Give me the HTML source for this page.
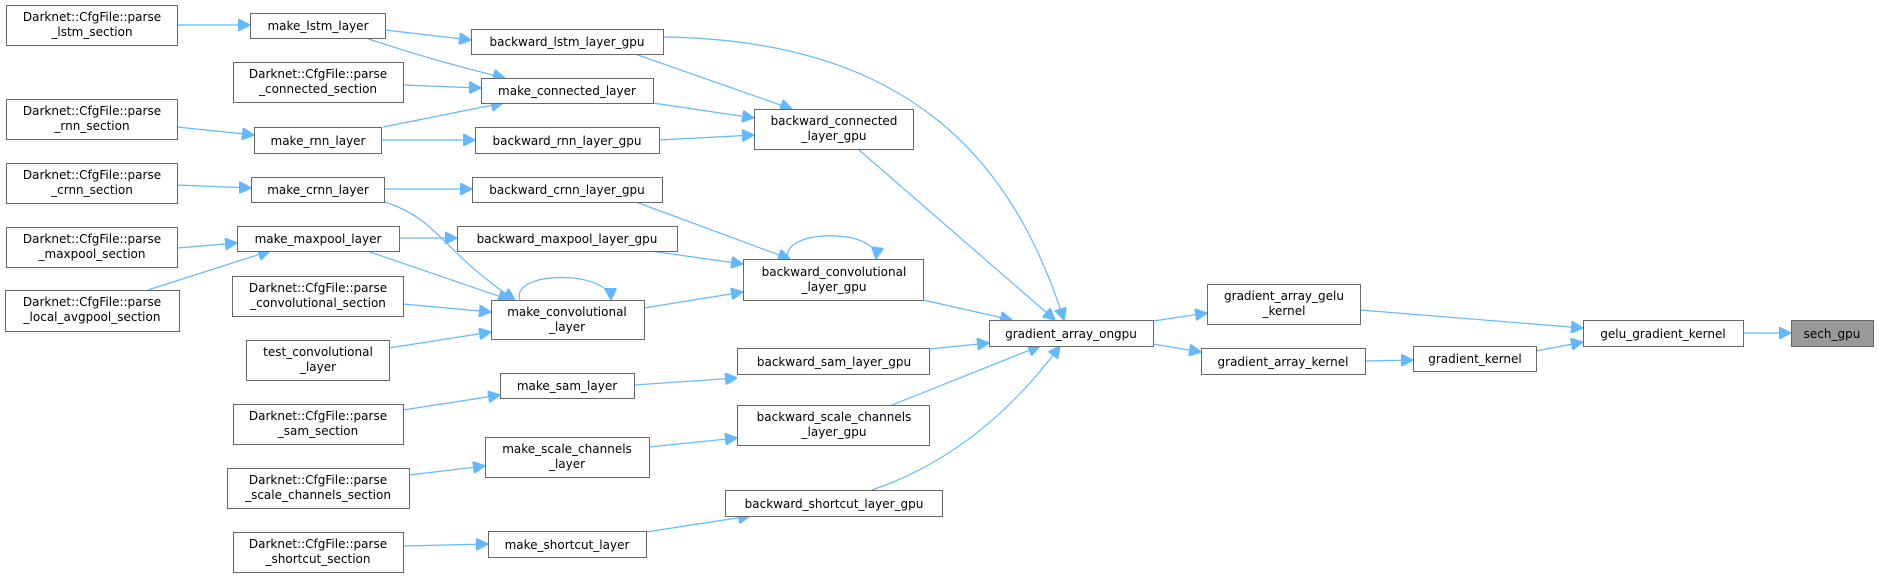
<!DOCTYPE html>
<html><head><meta charset="utf-8"><style>
html,body{margin:0;padding:0;background:#fff;}
svg{display:block;}
text{font-family:"DejaVu Sans","Liberation Sans",sans-serif;font-size:12px;fill:#000;text-anchor:middle;}
rect{fill:#fff;stroke:#666;stroke-width:1;}
path{fill:none;stroke:#63b8ff;stroke-width:1.2;}
</style></head><body>
<svg width="1879" height="577" viewBox="0 0 1879 577" xmlns="http://www.w3.org/2000/svg">
<defs><marker id="a" viewBox="0 0 10 10" refX="10" refY="5" markerWidth="12" markerHeight="12" markerUnits="userSpaceOnUse" orient="auto"><path d="M0,0 L10,5 L0,10 z" style="fill:#63b8ff;stroke:#63b8ff"/></marker></defs>
<g marker-end="url(#a)">
<path d="M177,25 L250,25"/>
<path d="M385,30 L471,40"/>
<path d="M366,38 Q430,60 505,78"/>
<path d="M403,85 L481,88"/>
<path d="M177,127 L254,135"/>
<path d="M383,127 L503,103"/>
<path d="M381,140 L475,140"/>
<path d="M177,185 L251,188"/>
<path d="M384,189 L472,189"/>
<path d="M385,202 C440,220 440,250 515,300"/>
<path d="M177,248 L237,243"/>
<path d="M148,290 L270,251"/>
<path d="M399,238 L457,238"/>
<path d="M367,251 L510,300"/>
<path d="M403,304 L491,312"/>
<path d="M389,348 L491,332"/>
<path d="M520,300 C510,270 610,270 611,300"/>
<path d="M635,54 L792,109"/>
<path d="M653,103 L754,118"/>
<path d="M659,140 L754,135"/>
<path d="M636,202 L790,259"/>
<path d="M650,251 L743,264"/>
<path d="M644,308 L743,292"/>
<path d="M788,259 C780,228 880,228 876,259"/>
<path d="M663,37 C900,40 1010,150 1064,320"/>
<path d="M858,149 L1055,320"/>
<path d="M923,300 L1012,320"/>
<path d="M634,385 L737,378"/>
<path d="M929,349 L989,343"/>
<path d="M403,410 L500,395"/>
<path d="M409,475 L485,466"/>
<path d="M649,447 L737,438"/>
<path d="M892,405 L1040,346"/>
<path d="M403,546 L488,544"/>
<path d="M646,532 L750,516"/>
<path d="M872,490 C960,460 1020,400 1060,346"/>
<path d="M1153,321 L1207,313"/>
<path d="M1153,344 L1201,352"/>
<path d="M1360,310 L1583,328"/>
<path d="M1365,361 L1413,360"/>
<path d="M1536,351 L1583,342"/>
<path d="M1743,333 L1791,333"/>
</g>
<rect x="6.5" y="5.5" width="171" height="40"/><text x="92" y="21">Darknet::CfgFile::parse</text><text x="92" y="36">_lstm_section</text>
<rect x="250.5" y="13.5" width="135" height="25"/><text x="318" y="30">make_lstm_layer</text>
<rect x="471.5" y="29.5" width="192" height="25"/><text x="567" y="46">backward_lstm_layer_gpu</text>
<rect x="233.5" y="62.5" width="170" height="40"/><text x="318" y="78">Darknet::CfgFile::parse</text><text x="318" y="93">_connected_section</text>
<rect x="481.5" y="78.5" width="172" height="25"/><text x="567" y="95">make_connected_layer</text>
<rect x="6.5" y="99.5" width="171" height="40"/><text x="92" y="115">Darknet::CfgFile::parse</text><text x="92" y="130">_rnn_section</text>
<rect x="254.5" y="127.5" width="127" height="26"/><text x="318" y="145">make_rnn_layer</text>
<rect x="475.5" y="127.5" width="184" height="26"/><text x="567" y="145">backward_rnn_layer_gpu</text>
<rect x="754.5" y="109.5" width="159" height="40"/><text x="834" y="125">backward_connected</text><text x="834" y="140">_layer_gpu</text>
<rect x="6.5" y="163.5" width="171" height="40"/><text x="92" y="179">Darknet::CfgFile::parse</text><text x="92" y="194">_crnn_section</text>
<rect x="251.5" y="177.5" width="133" height="25"/><text x="318" y="194">make_crnn_layer</text>
<rect x="472.5" y="177.5" width="190" height="25"/><text x="567" y="194">backward_crnn_layer_gpu</text>
<rect x="6.5" y="227.5" width="171" height="40"/><text x="92" y="243">Darknet::CfgFile::parse</text><text x="92" y="258">_maxpool_section</text>
<rect x="237.5" y="226.5" width="162" height="25"/><text x="318" y="243">make_maxpool_layer</text>
<rect x="457.5" y="226.5" width="220" height="25"/><text x="567" y="243">backward_maxpool_layer_gpu</text>
<rect x="743.5" y="259.5" width="180" height="41"/><text x="834" y="276">backward_convolutional</text><text x="834" y="291">_layer_gpu</text>
<rect x="5.5" y="290.5" width="174" height="41"/><text x="92" y="306">Darknet::CfgFile::parse</text><text x="92" y="321">_local_avgpool_section</text>
<rect x="232.5" y="276.5" width="171" height="40"/><text x="318" y="292">Darknet::CfgFile::parse</text><text x="318" y="307">_convolutional_section</text>
<rect x="491.5" y="300.5" width="153" height="39"/><text x="567" y="316">make_convolutional</text><text x="567" y="331">_layer</text>
<rect x="246.5" y="340.5" width="143" height="40"/><text x="318" y="356">test_convolutional</text><text x="318" y="371">_layer</text>
<rect x="500.5" y="373.5" width="134" height="25"/><text x="567" y="390">make_sam_layer</text>
<rect x="233.5" y="404.5" width="170" height="40"/><text x="318" y="420">Darknet::CfgFile::parse</text><text x="318" y="435">_sam_section</text>
<rect x="485.5" y="437.5" width="164" height="40"/><text x="567" y="453">make_scale_channels</text><text x="567" y="468">_layer</text>
<rect x="227.5" y="468.5" width="182" height="40"/><text x="318" y="484">Darknet::CfgFile::parse</text><text x="318" y="499">_scale_channels_section</text>
<rect x="233.5" y="532.5" width="170" height="40"/><text x="318" y="548">Darknet::CfgFile::parse</text><text x="318" y="563">_shortcut_section</text>
<rect x="488.5" y="531.5" width="158" height="26"/><text x="567" y="549">make_shortcut_layer</text>
<rect x="737.5" y="348.5" width="192" height="26"/><text x="834" y="366">backward_sam_layer_gpu</text>
<rect x="737.5" y="405.5" width="192" height="40"/><text x="834" y="421">backward_scale_channels</text><text x="834" y="436">_layer_gpu</text>
<rect x="725.5" y="490.5" width="217" height="26"/><text x="834" y="508">backward_shortcut_layer_gpu</text>
<rect x="989.5" y="320.5" width="164" height="26"/><text x="1071" y="338">gradient_array_ongpu</text>
<rect x="1207.5" y="284.5" width="153" height="40"/><text x="1284" y="300">gradient_array_gelu</text><text x="1284" y="315">_kernel</text>
<rect x="1201.5" y="348.5" width="164" height="26"/><text x="1283" y="366">gradient_array_kernel</text>
<rect x="1413.5" y="346.5" width="123" height="25"/><text x="1475" y="363">gradient_kernel</text>
<rect x="1583.5" y="320.5" width="160" height="26"/><text x="1663" y="338">gelu_gradient_kernel</text>
<rect x="1791.5" y="320.5" width="82" height="26" style="fill:#999"/><text x="1832" y="338">sech_gpu</text>
</svg>
</body></html>
